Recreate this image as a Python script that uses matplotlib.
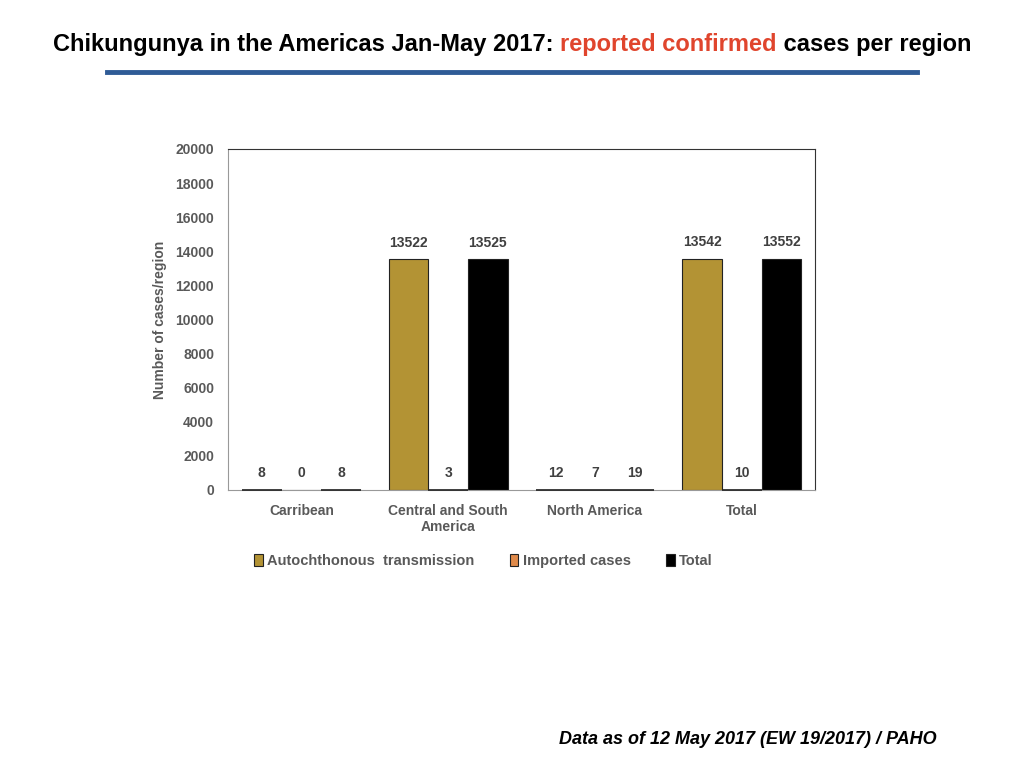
import numpy as np
import matplotlib.pyplot as plt

plt.rcParams['font.family'] = ['Liberation Sans', 'DejaVu Sans']

regions = ['Carribean', 'Central and South\nAmerica', 'North America', 'Total']
autochthonous = [8, 13522, 12, 13542]
imported = [0, 3, 7, 10]
total = [8, 13525, 19, 13552]

c_auto = '#B39334'
c_imp = '#E08A4A'
c_tot = '#000000'
grey = '#595959'

fig = plt.figure(figsize=(10.24, 7.68), dpi=100)
ax = fig.add_axes([0.2227, 0.362, 0.5733, 0.444])

x = np.arange(len(regions))
w = 0.27
series = [(autochthonous, c_auto, 'Autochthonous  transmission', -w),
          (imported, c_imp, 'Imported cases', 0),
          (total, c_tot, 'Total', w)]
for vals, col, lab, off in series:
    bars = ax.bar(x + off, vals, w, color=col, edgecolor='#222222', linewidth=0.8, label=lab)
    for b, v in zip(bars, vals):
        ax.annotate(str(v), (b.get_x() + b.get_width() / 2, v), xytext=(0, 7),
                    textcoords='offset points', ha='center', va='bottom',
                    fontsize=10, fontweight='bold', color='#404040')

# thin dark lines where the tiny bars sit on the axis
for vals, off in [(autochthonous, -w), (imported, 0), (total, w)]:
    for xi, v in zip(x, vals):
        if 0 < v < 1000:
            ax.plot([xi + off - w / 2, xi + off + w / 2], [0, 0], color='#222222', lw=1.2,
                    solid_capstyle='butt', zorder=3, clip_on=False)

ax.set_xlim(-0.5, 3.5)
ax.set_ylim(0, 20000)
ax.set_yticks(range(0, 20001, 2000))
ax.set_xticks(x)
ax.set_xticklabels(regions)
ax.tick_params(axis='y', length=0, labelsize=10, labelcolor=grey, pad=10)
ax.tick_params(axis='x', length=0, labelsize=10, labelcolor=grey, pad=10)
for t in ax.get_xticklabels() + ax.get_yticklabels():
    t.set_fontweight('bold')
ax.set_ylabel('Number of cases/region', fontsize=10, fontweight='bold', color=grey, labelpad=6)
for s in ['top', 'right']:
    ax.spines[s].set_color('#333333')
for s in ['left', 'bottom']:
    ax.spines[s].set_color('#999999')

ax.legend(loc='upper center', bbox_to_anchor=(0.435, -0.15), ncol=3, frameon=False,
          handlelength=0.6, handleheight=0.9, handletextpad=0.3,
          columnspacing=2.4, labelcolor=grey, prop={'weight': 'bold', 'size': 10.5})

# title in three parts
parts = [('Chikungunya in the Americas Jan-May 2017: ', '#000000'),
         ('reported confirmed', '#E0452D'),
         (' cases per region', '#000000')]
fig.canvas.draw()
r = fig.canvas.get_renderer()
texts = []
for s, col in parts:
    t = fig.text(0, 1 - 45 / 768, s, fontsize=17, fontweight='bold', color=col, va='center')
    texts.append(t)
widths = [t.get_window_extent(r).width for t in texts]
xpos = (1024 - sum(widths)) / 2
for t, wd in zip(texts, widths):
    t.set_x(xpos / 1024)
    xpos += wd

fig.add_artist(plt.Line2D([107 / 1024, 917 / 1024], [1 - 72 / 768] * 2, color='#2F5B96', linewidth=3.5))

fig.text(937 / 1024, 1 - 740 / 768, 'Data as of 12 May 2017 (EW 19/2017) / PAHO', ha='right', va='center',
         fontsize=13, fontweight='bold', fontstyle='italic')

fig.savefig('out.png', dpi=100)
